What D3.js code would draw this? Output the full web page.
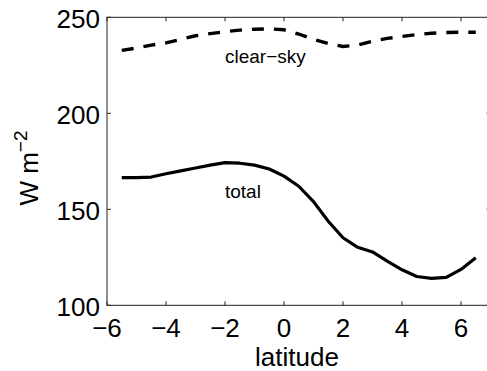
<!DOCTYPE html>
<html>
<head>
<meta charset="utf-8">
<script src="https://cdn.jsdelivr.net/npm/d3@7"></script>
<style>
  html, body { margin: 0; padding: 0; background: #fff; }
  svg { display: block; font-family: "Liberation Sans", Arial, Helvetica, sans-serif; }
</style>
</head>
<body>
<svg id="chart" width="487" height="371"></svg>
<script>
const latitude = [-5.5, -5.0, -4.5, -4.0, -3.5, -3.0, -2.5, -2.0, -1.5, -1.0, -0.5, 0.0, 0.5,
                  1.0, 1.5, 2.0, 2.5, 3.0, 3.5, 4.0, 4.5, 5.0, 5.5, 6.0, 6.5];
const total = [166.5, 166.5, 166.8, 168.5, 170.0, 171.5, 173.0, 174.3, 174.0, 173.0, 171.0, 167.3, 162.0,
               154.0, 143.8, 135.2, 130.2, 127.8, 123.0, 118.5, 115.0, 114.0, 114.5, 118.7, 124.8];
const clearSky = [232.8, 234.0, 235.5, 236.7, 238.5, 240.4, 241.5, 242.5, 243.3, 243.8, 244.0, 243.5, 241.3,
                  238.5, 236.3, 234.8, 235.6, 237.5, 239.0, 240.0, 241.0, 241.7, 242.1, 242.2, 242.2];
const xTicks = [-6, -4, -2, 0, 2, 4, 6];
const yTicks = [100, 150, 200, 250];
const xDomain = [-6, 7];
const yDomain = [100, 250];

(function () {
const svg = d3.select("#chart");
const mLeft = 107, mRight = 490.5, mTop = 17.3, mBottom = 305.3;
const x = d3.scaleLinear().domain(xDomain).range([mLeft, mRight]);
const y = d3.scaleLinear().domain(yDomain).range([mBottom, mTop]);
const tickLen = 4;
const fs = 26;

// axes box with inward ticks
const axisG = svg.append("g").attr("fill", "none").attr("stroke", "#222").attr("stroke-width", 1);
axisG.append("rect").attr("x", mLeft).attr("y", mTop).attr("width", mRight - mLeft).attr("height", mBottom - mTop);

xTicks.forEach(t => {
  axisG.append("line").attr("x1", x(t)).attr("x2", x(t)).attr("y1", mBottom).attr("y2", mBottom - tickLen);
  axisG.append("line").attr("x1", x(t)).attr("x2", x(t)).attr("y1", mTop).attr("y2", mTop + tickLen);
});
yTicks.forEach(t => {
  axisG.append("line").attr("x1", mLeft).attr("x2", mLeft + tickLen).attr("y1", y(t)).attr("y2", y(t));
  axisG.append("line").attr("x1", mRight).attr("x2", mRight - tickLen).attr("y1", y(t)).attr("y2", y(t));
});

// tick labels
svg.append("g").selectAll("text").data(xTicks).join("text")
  .attr("x", d => x(d)).attr("y", mBottom + 32)
  .attr("text-anchor", "middle").attr("font-size", fs).attr("fill", "#000")
  .text(d => d < 0 ? "\u2212" + Math.abs(d) : String(d));

svg.append("g").selectAll("text").data(yTicks).join("text")
  .attr("x", mLeft - 7).attr("y", d => y(d) + 10.5)
  .attr("text-anchor", "end").attr("font-size", fs).attr("fill", "#000")
  .text(d => d);

// axis labels
svg.append("text").attr("x", (x(-6) + x(6)) / 2 + 13).attr("y", 366)
  .attr("text-anchor", "middle").attr("font-size", fs).attr("fill", "#000").text("latitude");

const yl = svg.append("text")
  .attr("transform", "translate(38,168) rotate(-90)")
  .attr("text-anchor", "middle").attr("font-size", fs).attr("fill", "#000");
yl.append("tspan").text("W m");
yl.append("tspan").attr("font-size", 19).attr("dy", -11).text("\u22122");

// lines
const pts = (vals) => latitude.map((l, i) => [l, vals[i]]);
const line = d3.line().x(d => x(d[0])).y(d => y(d[1]));

svg.append("path").datum(pts(total))
  .attr("d", line).attr("fill", "none").attr("stroke", "#000")
  .attr("stroke-width", 3.2).attr("stroke-linejoin", "round");

svg.append("path").datum(pts(clearSky))
  .attr("d", line).attr("fill", "none").attr("stroke", "#000")
  .attr("stroke-width", 3.4).attr("stroke-dasharray", "12,10");

// annotations
svg.append("text").attr("x", 225).attr("y", 63).attr("font-size", 19).attr("fill", "#000").text("clear\u2212sky");
svg.append("text").attr("x", 225).attr("y", 197.5).attr("font-size", 19).attr("fill", "#000").text("total");
})();
</script>
</body>
</html>
